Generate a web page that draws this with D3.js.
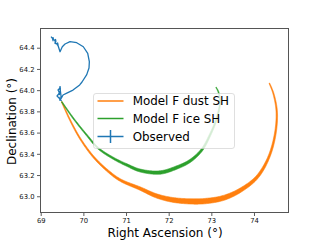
<!DOCTYPE html>
<html>
<head>
<meta charset="utf-8">
<script src="https://cdn.jsdelivr.net/npm/d3@7"></script>
<style>
  body { margin: 0; background: #fff; }
  svg text { font-family: "DejaVu Sans", sans-serif; }
</style>
</head>
<body>
<div class="content"></div>
<script>
// data
const dustRA   = [69.492, 69.687, 69.921, 70.233, 70.547, 70.859, 71.328, 71.720, 72.109, 72.578, 72.892, 73.281, 73.673, 74.064, 74.336, 74.493, 74.533, 74.454, 74.360]
const dustDec  = [63.891, 63.719, 63.546, 63.373, 63.248, 63.154, 63.073, 63.003, 62.965, 62.951, 62.956, 62.984, 63.055, 63.177, 63.358, 63.577, 63.797, 63.970, 64.065]
const dustSpread = [0.008, 0.010, 0.012, 0.015, 0.018, 0.022, 0.030, 0.038, 0.045, 0.050, 0.050, 0.046, 0.038, 0.028, 0.020, 0.016, 0.013, 0.010, 0.007]

const iceRA    = [69.492, 69.764, 70.078, 70.351, 70.702, 71.016, 71.328, 71.797, 72.189, 72.501, 72.775, 72.970, 73.127, 73.204, 73.164, 73.110]
const iceDec   = [63.891, 63.735, 63.577, 63.452, 63.358, 63.295, 63.243, 63.224, 63.271, 63.333, 63.436, 63.578, 63.735, 63.891, 63.985, 64.027]
const iceSpread = [0.008, 0.010, 0.012, 0.015, 0.018, 0.022, 0.027, 0.032, 0.030, 0.026, 0.020, 0.016, 0.013, 0.010, 0.008, 0.006]

const obsRA  = [69.242, 69.288, 69.347, 69.335, 69.394, 69.417, 69.453, 69.506, 69.570, 69.687, 69.844, 69.999, 70.102, 70.140, 70.132, 70.079, 69.968, 69.914, 69.757, 69.600, 69.523, 69.483, 69.453, 69.406, 69.441, 69.382, 69.453, 69.488]
const obsDec = [64.504, 64.482, 64.463, 64.440, 64.435, 64.407, 64.362, 64.409, 64.435, 64.457, 64.447, 64.409, 64.347, 64.268, 64.209, 64.146, 64.077, 64.049, 64.001, 63.970, 63.954, 63.923, 64.020, 64.001, 63.973, 63.945, 63.917, 63.898]
const obsRAErr  = [0, 0.02, 0.02, 0, 0.02, 0, 0, 0, 0, 0, 0, 0, 0, 0, 0, 0, 0, 0, 0, 0, 0, 0, 0.015, 0, 0.015, 0, 0.015, 0]
const obsDecErr = [0, 0.02, 0.02, 0, 0.015, 0, 0, 0, 0, 0, 0, 0, 0, 0, 0, 0, 0, 0, 0, 0, 0, 0, 0.02, 0, 0.02, 0, 0.02, 0]

const xTicks = [69, 70, 71, 72, 73, 74]
const yTicks = [63.0, 63.2, 63.4, 63.6, 63.8, 64.0, 64.2, 64.4]
const legendLabels = ['Model F dust SH', 'Model F ice SH', 'Observed']
const colors = ['#ff7f0e', '#2ca02c', '#1f77b4']

// layout
const width = 320, height = 240
const axLeft = 40.5, axRight = 288.5, axTop = 28.5, axBottom = 212.5

const x = d3.scaleLinear().domain([68.995, 74.809]).range([axLeft, axRight])
const y = d3.scaleLinear().domain([62.847, 64.581]).range([axBottom, axTop])

const svg = d3.select('div.content')
    .append('svg')
    .attr('width', width)
    .attr('height', height)

const plot = svg.append('g')

// model runs drawn as a band round the centre track
function band(ra, dec, spread, color) {
    const pts = ra.map((d, i) => [x(d), y(dec[i])])
    const guide = plot.append('path')
        .attr('d', d3.line().curve(d3.curveCatmullRom)(pts))
        .attr('fill', 'none')
        .attr('stroke', 'none')
    const node = guide.node()
    const total = node.getTotalLength()

    // chord length at each data point, for spreading the width along the path
    const cum = [0]
    for (let i = 1; i < pts.length; i++) {
        cum.push(cum[i - 1] + Math.hypot(pts[i][0] - pts[i - 1][0], pts[i][1] - pts[i - 1][1]))
    }
    const chord = cum[cum.length - 1]
    const wpx = spread.map(s => Math.abs(y(s) - y(0)))
    const widthAt = d3.scaleLinear().domain(cum.map(c => c / chord)).range(wpx)

    const n = 400
    const samples = d3.range(n + 1).map(k => node.getPointAtLength(total * k / n))
    const sideA = [], sideB = []
    samples.forEach((p, k) => {
        const a = samples[Math.max(0, k - 1)], b = samples[Math.min(n, k + 1)]
        const dx = b.x - a.x, dy = b.y - a.y
        const len = Math.hypot(dx, dy) || 1
        const nx = -dy / len, ny = dx / len
        const h = widthAt(k / n) / 2
        sideA.push([p.x + nx * h, p.y + ny * h])
        sideB.push([p.x - nx * h, p.y - ny * h])
    })
    plot.append('path')
        .attr('d', 'M' + sideA.concat(sideB.reverse()).map(p => p.join(',')).join('L') + 'Z')
        .attr('fill', color)
        .attr('stroke', color)
        .attr('stroke-width', 0.6)
        .attr('stroke-linejoin', 'round')
    guide.remove()
}

band(dustRA, dustDec, dustSpread, colors[0])
band(iceRA, iceDec, iceSpread, colors[1])

// observed track with its error bars
const obsPts = obsRA.map((d, i) => [x(d), y(obsDec[i])])
plot.append('path')
    .attr('d', d3.line()(obsPts))
    .attr('fill', 'none')
    .attr('stroke', colors[2])
    .attr('stroke-width', 1.3)
    .attr('stroke-linejoin', 'round')

obsRA.forEach((d, i) => {
    if (obsRAErr[i] > 0) {
        plot.append('line')
            .attr('x1', x(d - obsRAErr[i])).attr('x2', x(d + obsRAErr[i]))
            .attr('y1', y(obsDec[i])).attr('y2', y(obsDec[i]))
            .attr('stroke', colors[2]).attr('stroke-width', 1.3)
    }
    if (obsDecErr[i] > 0) {
        plot.append('line')
            .attr('x1', x(d)).attr('x2', x(d))
            .attr('y1', y(obsDec[i] - obsDecErr[i])).attr('y2', y(obsDec[i] + obsDecErr[i]))
            .attr('stroke', colors[2]).attr('stroke-width', 1.3)
    }
})

// axes
const xAxis = svg.append('g')
    .attr('transform', `translate(0,${axBottom})`)
    .call(d3.axisBottom(x).tickValues(xTicks).tickFormat(d3.format('d')).tickSize(3.5).tickPadding(2.5))
const yAxis = svg.append('g')
    .attr('transform', `translate(${axLeft},0)`)
    .call(d3.axisLeft(y).tickValues(yTicks).tickFormat(d3.format('.1f')).tickSize(3.5).tickPadding(2.5))

;[xAxis, yAxis].forEach(a => {
    a.select('.domain').remove()
    a.selectAll('.tick line').attr('stroke', '#333').attr('stroke-width', 0.8)
    a.selectAll('.tick text')
        .attr('font-size', 6.8)
        .attr('font-family', '"DejaVu Sans", sans-serif')
        .attr('fill', '#111')
})

svg.append('rect')
    .attr('x', axLeft)
    .attr('y', axTop)
    .attr('width', axRight - axLeft)
    .attr('height', axBottom - axTop)
    .attr('fill', 'none')
    .attr('stroke', '#555')
    .attr('stroke-width', 1)

svg.append('text')
    .attr('x', (axLeft + axRight) / 2 + 0.5)
    .attr('y', 236.5)
    .attr('text-anchor', 'middle')
    .attr('font-size', 12)
    .text('Right Ascension (°)')

svg.append('text')
    .attr('transform', `translate(15.5,${(axTop + axBottom) / 2 + 1}) rotate(-90)`)
    .attr('text-anchor', 'middle')
    .attr('font-size', 12)
    .text('Declination (°)')

// legend
const legend = svg.append('g').attr('transform', 'translate(93.5,93.5)')
legend.append('rect')
    .attr('width', 141)
    .attr('height', 55)
    .attr('rx', 2.5)
    .attr('fill', '#fff')
    .attr('fill-opacity', 0.8)
    .attr('stroke', '#ccc')
    .attr('stroke-opacity', 0.8)
    .attr('stroke-width', 0.8)

const rowY = [7.5, 25, 43]
legendLabels.forEach((label, i) => {
    legend.append('line')
        .attr('x1', 4).attr('x2', 30)
        .attr('y1', rowY[i]).attr('y2', rowY[i])
        .attr('stroke', colors[i])
        .attr('stroke-width', 1.5)
    if (i === 2) {
        legend.append('line')
            .attr('x1', 17).attr('x2', 17)
            .attr('y1', rowY[i] - 6.5).attr('y2', rowY[i] + 6.5)
            .attr('stroke', colors[i])
            .attr('stroke-width', 1.5)
    }
    legend.append('text')
        .attr('x', 39.2)
        .attr('y', rowY[i] + 4.3)
        .attr('font-size', 11.9)
        .attr('fill', '#000')
        .text(label)
})
</script>
</body>
</html>
